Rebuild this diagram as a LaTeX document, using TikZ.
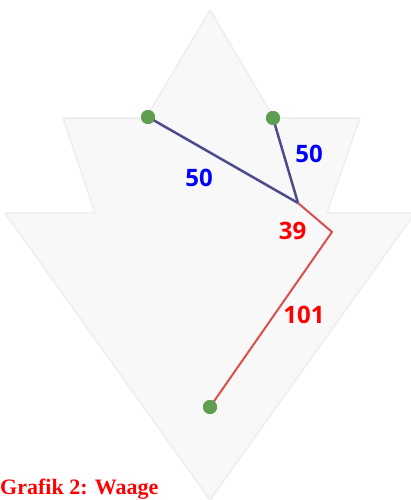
\documentclass[tikz,border=0pt]{standalone}
\usepackage{fontspec}
\setmainfont{Liberation Serif}
\newfontfamily\numfont{Open Sans}
\usepackage{xcolor}
\usepackage{tikz}

\definecolor{dotgreen}{HTML}{5E9E50}
\definecolor{armblue}{HTML}{4C4C8C}
\definecolor{armred}{HTML}{D85050}
\definecolor{backfill}{HTML}{F8F8F8}
\definecolor{backline}{HTML}{EEEEEE}

\tikzset{
  pivot/.style={circle,fill=dotgreen,inner sep=0pt,minimum size=14pt},
  armlen/.style={font=\numfont\bfseries\fontsize{24}{24}\selectfont,inner sep=0pt},
}

\begin{document}
\begin{tikzpicture}[x=1pt,y=-1pt]
    \useasboundingbox (0,0) rectangle (411,500);
    % Background shape
    \draw[backline,fill=backfill,line width=1.5pt,line join=round]
      (210,10) -- (274,118) -- (360,118) -- (327,213) -- (415,213)
      -- (210,500) -- (5,213) -- (95,213) -- (63,118) -- (146,118) -- cycle;
    % Knots
    \coordinate (hub) at (298,203);
    \coordinate (bend) at (332,232);
    \node[pivot] (left) at (148,117) {};
    \node[pivot] (right) at (273,118) {};
    \node[pivot] (weight) at (210,407) {};
    % Arms
    \draw[armblue,line width=2.5pt] (left.center) -- (hub);
    \draw[armblue,line width=2.5pt] (right.center) -- (hub);
    \draw[armred,line width=2pt,line join=miter] (hub) -- (bend) -- (weight.center);
    \node[pivot] at (left) {};
    \node[pivot] at (right) {};
    \node[pivot] at (weight) {};
    % Lengths
    \node[armlen,text=blue] (lenleft) at (199,178) {50};
    \node[armlen,text=blue] (lenright) at (309,154) {50};
    \node[armlen,text=red] (lenshort) at (292.5,231) {39};
    \node[armlen,text=red] (lenlong) at (304,315) {101};
    % Caption
    \node[anchor=base west,inner sep=0pt,text=red,font=\bfseries\fontsize{22}{22}\selectfont] (caption) at (0,494) {Grafik 2: Waage};
\end{tikzpicture}
\end{document}
